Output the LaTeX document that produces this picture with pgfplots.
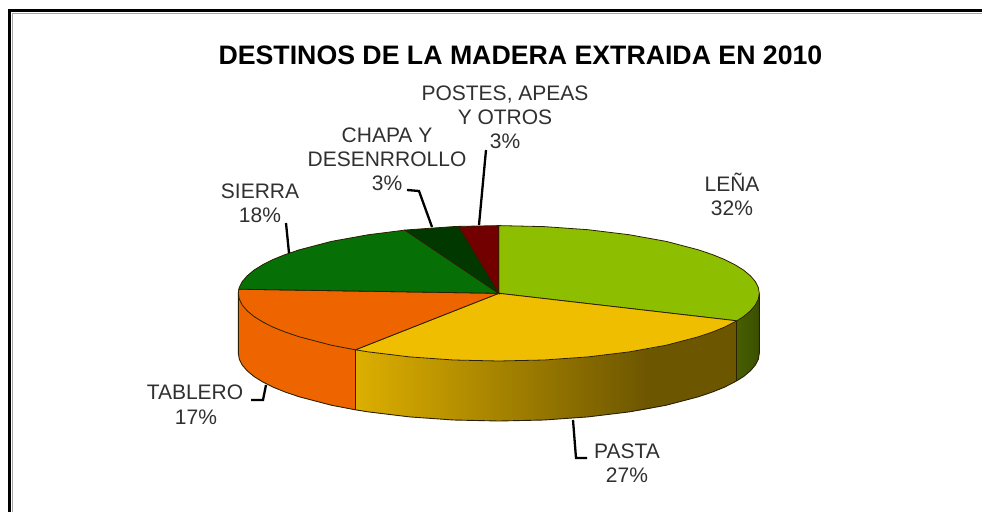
\documentclass[border=0pt]{standalone}
\usepackage{fontspec}
\setmainfont{Liberation Sans}
\usepackage{pgfplots}
\pgfplotsset{compat=1.18}
\definecolor{txt}{HTML}{303030}
\definecolor{lena}{HTML}{8DBE00}
\definecolor{pasta}{HTML}{F0BE00}
\definecolor{tablero}{HTML}{EE6500}
\definecolor{sierra}{HTML}{067006}
\definecolor{chapa}{HTML}{003800}
\definecolor{postes}{HTML}{730000}
\definecolor{edge}{HTML}{2A2000}
\newcommand{\lab}[3]{\node[text=txt,font=\fontsize{21}{21}\selectfont,anchor=base,inner sep=0pt] at (axis cs:#1,#2) {#3};}
\begin{document}
\begin{tikzpicture}
\path[use as bounding box] (0,0) rectangle (982pt,512pt);
\begin{axis}[
  at={(0,0)}, anchor=south west,
  scale only axis, width=982pt, height=512pt,
  xmin=0, xmax=982, ymin=0, ymax=512, y dir=reverse,
  axis lines=none, clip=true, ticks=none]
% frame
\addplot[black,line width=3.2pt,forget plot] coordinates {(9.6,512) (9.6,10.6) (982,10.6)};
\addplot[gray!70,line width=1pt,forget plot] coordinates {(12.5,512) (12.5,13.2) (982,13.2)};
% side walls
\addplot[fill=tablero,draw=none,forget plot] coordinates {
(238.3,293.3)(239.3,299.2)(242.3,305.1)(247.2,310.8)(254.0,316.5)(262.7,321.9)(273.2,327.2)(285.4,332.1)(299.3,336.8)(331.3,345.2)(355.4,349.8)
(355.4,409.8)(331.3,405.2)(299.3,396.8)(285.4,392.1)(273.2,387.2)(262.7,381.9)(254.0,376.5)(247.2,370.8)(242.3,365.1)(239.3,359.2)(238.3,353.3)} -- cycle;
\addplot[fill=pasta!45!black,draw=none,forget plot] coordinates {
(629.1,351.9)(650,348.5)(666.3,345.2)(698.3,336.8)(712.2,332.1)(724.4,327.2)(736.8,320.8)
(736.8,380.8)(724.4,387.2)(712.2,392.1)(698.3,396.8)(666.3,405.2)(650,408.5)(629.1,411.9)} -- cycle;
\addplot[left color=pasta!92!black,right color=pasta!45!black,draw=none,forget plot] coordinates {
(355.4,349.8)(368.5,351.9)(409.7,356.9)(453.6,360.0)(498.8,361.0)(544.0,360.0)(587.9,356.9)(629.1,351.9)(650,348.5)
(650,408.5)(629.1,411.9)(587.9,416.9)(544.0,420.0)(498.8,421.0)(453.6,420.0)(409.7,416.9)(368.5,411.9)(355.4,409.8)} -- cycle;
\addplot[left color=lena!50!black,right color=lena!42!black,draw=none,forget plot] coordinates {
(736.8,320.8)(743.6,316.5)(750.4,310.8)(755.3,305.1)(758.3,299.2)(759.3,293.3)
(759.3,353.3)(758.3,359.2)(755.3,365.1)(750.4,370.8)(743.6,376.5)(736.8,380.8)} -- cycle;
% side outlines
\addplot[edge,line width=0.9pt,forget plot] coordinates {
(238.3,293.3)(238.3,353.3)(239.3,359.2)(242.3,365.1)(247.2,370.8)(254.0,376.5)(262.7,381.9)(273.2,387.2)(285.4,392.1)(299.3,396.8)(331.3,405.2)(355.4,409.8)(368.5,411.9)(409.7,416.9)(453.6,420.0)(498.8,421.0)(544.0,420.0)(587.9,416.9)(629.1,411.9)(666.3,405.2)(698.3,396.8)(712.2,392.1)(724.4,387.2)(736.8,380.8)(743.6,376.5)(750.4,370.8)(755.3,365.1)(758.3,359.2)(759.3,353.3)(759.3,293.3)};
\addplot[edge,line width=0.9pt,forget plot] coordinates {(355.4,349.8)(355.4,409.8)};
\addplot[edge,line width=0.9pt,forget plot] coordinates {(736.8,320.8)(736.8,380.8)};
% top wedges
\addplot[fill=lena,draw=edge,line width=0.8pt,forget plot] coordinates {
(498.8,293.3)(498.8,225.6)(544.0,226.6)(587.9,229.7)(629.1,234.7)(666.3,241.4)(698.3,249.8)(712.2,254.5)(724.4,259.4)(734.9,264.7)(743.6,270.1)(750.4,275.8)(755.3,281.5)(758.3,287.4)(759.3,293.3)(758.3,299.2)(755.3,305.1)(750.4,310.8)(743.6,316.5)(736.8,320.8)} -- cycle;
\addplot[fill=pasta,draw=edge,line width=0.8pt,forget plot] coordinates {
(498.8,293.3)(736.8,320.8)(724.4,327.2)(712.2,332.1)(698.3,336.8)(666.3,345.2)(629.1,351.9)(587.9,356.9)(544.0,360.0)(498.8,361.0)(453.6,360.0)(409.7,356.9)(368.5,351.9)(355.4,349.8)} -- cycle;
\addplot[fill=tablero,draw=edge,line width=0.8pt,forget plot] coordinates {
(498.8,293.3)(355.4,349.8)(331.3,345.2)(299.3,336.8)(285.4,332.1)(273.2,327.2)(262.7,321.9)(254.0,316.5)(247.2,310.8)(242.3,305.1)(239.3,299.2)(238.3,293.3)(238.8,289.2)} -- cycle;
\addplot[fill=sierra,draw=edge,line width=0.8pt,forget plot] coordinates {
(498.8,293.3)(238.8,289.2)(239.3,287.4)(242.3,281.5)(247.2,275.8)(254.0,270.1)(262.7,264.7)(273.2,259.4)(285.4,254.5)(299.3,249.8)(331.3,241.4)(368.5,234.7)(405.0,230.1)} -- cycle;
\addplot[fill=chapa,draw=edge,line width=0.8pt,forget plot] coordinates {
(498.8,293.3)(405.0,230.1)(409.7,229.7)(453.6,226.6)(458.5,226.4)} -- cycle;
\addplot[fill=postes,draw=edge,line width=0.8pt,forget plot] coordinates {
(498.8,293.3)(458.5,226.4)(498.8,225.6)} -- cycle;
% leader lines
\addplot[black,line width=2.3pt,forget plot] coordinates {(486,150)(479,225)};
\addplot[black,line width=2.3pt,forget plot] coordinates {(407,190)(419,191)(432,227)};
\addplot[black,line width=2.3pt,forget plot] coordinates {(286,223)(289,253)};
\addplot[black,line width=2.3pt,forget plot] coordinates {(251,400)(263,400)(266,385)};
\addplot[black,line width=2.3pt,forget plot] coordinates {(573,420)(576,458)(587,458)};
% text
\node[font=\bfseries\fontsize{26.7}{26.7}\selectfont,inner sep=0pt,anchor=base] at (axis cs:520.5,64.5) {DESTINOS DE LA MADERA EXTRAIDA EN 2010};
\lab{505}{100}{POSTES, APEAS}
\lab{505}{124}{Y OTROS}
\lab{505}{148}{3\%}
\lab{387}{142}{CHAPA Y}
\lab{387}{166}{DESENRROLLO}
\lab{387}{190}{3\%}
\lab{260}{198}{SIERRA}
\lab{260}{222}{18\%}
\lab{195}{399}{TABLERO}
\lab{196}{424}{17\%}
\lab{627}{458}{PASTA}
\lab{627}{482}{27\%}
\lab{732}{191}{LEÑA}
\lab{732}{215}{32\%}
\end{axis}
\end{tikzpicture}
\end{document}
